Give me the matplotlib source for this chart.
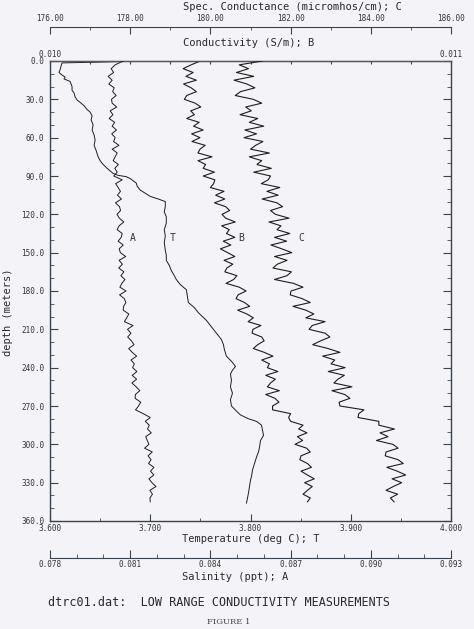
import numpy as np
import matplotlib
matplotlib.use("Agg")
import matplotlib.pyplot as plt
from matplotlib.ticker import MultipleLocator, FormatStrFormatter, FuncFormatter

# --------------------------------------------
# DATA
# --------------------------------------------
# common depth grid (m) for salinity, conductivity and spec. conductance
depth = np.arange(0, 346, 3)

# Temperature profile (deg C), own depth samples
t_depth = [0, 1.5, 4, 7, 9, 11, 12.5, 14, 16, 18,
           20, 23, 25, 28, 30.5, 33, 35, 38, 40, 43,
           46, 50, 54, 58, 62, 66, 70, 75, 78, 81,
           84, 86, 88, 89.5, 90.5, 92, 95.5, 98, 101, 104,
           106, 108, 110, 114, 118, 122, 127, 132, 137, 142,
           148, 152, 156, 160, 164, 168, 171, 175, 179, 184,
           189, 193, 197, 200, 203, 207, 210, 214, 218, 222,
           226, 231, 235, 239, 242, 245, 250, 255, 260, 265,
           270, 274, 277, 280, 282, 285, 289, 293, 297, 302,
           306, 310, 315, 320, 325, 328, 333, 338, 342, 346]
t_temp = [3.697, 3.612, 3.611, 3.610, 3.609, 3.612, 3.615, 3.614, 3.620, 3.621,
          3.622, 3.622, 3.624, 3.625, 3.627, 3.631, 3.634, 3.637, 3.640, 3.642,
          3.641, 3.643, 3.642, 3.644, 3.645, 3.644, 3.646, 3.648, 3.650, 3.653,
          3.657, 3.660, 3.663, 3.668, 3.676, 3.680, 3.686, 3.687, 3.690, 3.696,
          3.700, 3.708, 3.715, 3.715, 3.714, 3.716, 3.716, 3.714, 3.715, 3.714,
          3.715, 3.716, 3.716, 3.719, 3.721, 3.724, 3.726, 3.730, 3.736, 3.737,
          3.738, 3.744, 3.748, 3.752, 3.756, 3.760, 3.763, 3.767, 3.771, 3.773,
          3.774, 3.776, 3.781, 3.785, 3.782, 3.780, 3.781, 3.780, 3.782, 3.780,
          3.781, 3.786, 3.790, 3.798, 3.806, 3.811, 3.812, 3.813, 3.810, 3.809,
          3.808, 3.806, 3.804, 3.802, 3.801, 3.800, 3.799, 3.798, 3.797, 3.796]

# Salinity (ppt) -> A
a_sal = [0.080738, 0.080438, 0.080288, 0.080381, 0.080175, 0.080325, 0.080201, 0.080400, 0.080344, 0.080475,
         0.080299, 0.080325, 0.080494, 0.080250, 0.080355, 0.080213, 0.080419, 0.080325, 0.080486, 0.080310,
         0.080438, 0.080378, 0.080580, 0.080325, 0.080513, 0.080438, 0.080363, 0.080558, 0.080423, 0.080513,
         0.080385, 0.080700, 0.080456, 0.080550, 0.080636, 0.080524, 0.080674, 0.080449, 0.080599, 0.080640,
         0.080505, 0.080595, 0.080760, 0.080584, 0.080513, 0.080700, 0.080663, 0.080550, 0.080738, 0.080588,
         0.080633, 0.080831, 0.080584, 0.080708, 0.080573, 0.080764, 0.080651, 0.080801, 0.080689, 0.080614,
         0.080843, 0.080603, 0.080779, 0.080839, 0.080753, 0.080738, 0.080948, 0.080869, 0.080783, 0.081105,
         0.080899, 0.081030, 0.080906, 0.081045, 0.081143, 0.080944, 0.081075, 0.081240, 0.081030, 0.081154,
         0.081090, 0.081251, 0.081075, 0.081240, 0.081064, 0.081225, 0.081360, 0.081195, 0.081184, 0.081394,
         0.081311, 0.081199, 0.081488, 0.081750, 0.081563, 0.081713, 0.081649, 0.081788, 0.081581, 0.081638,
         0.081701, 0.081536, 0.081825, 0.081668, 0.081780, 0.081686, 0.081889, 0.081758, 0.081885, 0.081701,
         0.081814, 0.081964, 0.081735, 0.081833, 0.081739, 0.081750]

# Conductivity (S/m) -> B
b_cond = [0.010375, 0.010352, 0.010332, 0.010357, 0.010339, 0.010365, 0.010333, 0.010352, 0.010365, 0.010341,
          0.010335, 0.010362, 0.010376, 0.010351, 0.010360, 0.010341, 0.010372, 0.010358, 0.010382, 0.010353,
          0.010374, 0.010354, 0.010387, 0.010374, 0.010369, 0.010404, 0.010369, 0.010388, 0.010382, 0.010410,
          0.010382, 0.010411, 0.010408, 0.010400, 0.010434, 0.010413, 0.010436, 0.010410, 0.010438, 0.010448,
          0.010429, 0.010438, 0.010462, 0.010428, 0.010447, 0.010440, 0.010461, 0.010432, 0.010451, 0.010425,
          0.010443, 0.010461, 0.010434, 0.010456, 0.010441, 0.010436, 0.010466, 0.010458, 0.010439, 0.010472,
          0.010489, 0.010469, 0.010464, 0.010485, 0.010498, 0.010468, 0.010491, 0.010507, 0.010494, 0.010526,
          0.010506, 0.010504, 0.010528, 0.010534, 0.010518, 0.010507, 0.010534, 0.010556, 0.010528, 0.010547,
          0.010542, 0.010568, 0.010538, 0.010562, 0.010550, 0.010542, 0.010572, 0.010538, 0.010561, 0.010571,
          0.010555, 0.010555, 0.010600, 0.010595, 0.010600, 0.010631, 0.010620, 0.010641, 0.010617, 0.010630,
          0.010611, 0.010640, 0.010649, 0.010626, 0.010623, 0.010642, 0.010652, 0.010626, 0.010642, 0.010659,
          0.010635, 0.010654, 0.010642, 0.010631, 0.010649, 0.010642]

# Spec. conductance (micromhos/cm) -> C
c_spec = [181.30, 180.72, 180.95, 180.65, 181.08, 180.59, 180.91, 181.11, 180.75, 180.62,
          181.07, 181.28, 180.88, 181.02, 180.74, 181.18, 180.97, 181.33, 180.86, 181.15,
          180.84, 181.31, 181.13, 181.00, 181.47, 180.97, 181.28, 181.16, 181.52, 181.08,
          181.50, 181.44, 181.27, 181.73, 181.41, 181.69, 181.29, 181.66, 181.80, 181.50,
          181.62, 181.96, 181.46, 181.76, 181.66, 181.98, 181.60, 181.90, 181.51, 181.78,
          182.03, 181.60, 181.91, 181.67, 181.56, 182.02, 181.91, 181.60, 182.07, 182.31,
          182.01, 181.99, 182.29, 182.49, 182.06, 182.38, 182.58, 182.38, 182.86, 182.54,
          182.46, 182.86, 182.98, 182.75, 182.55, 182.93, 183.23, 182.80, 183.10, 183.01,
          183.36, 182.94, 183.34, 183.18, 183.08, 183.53, 183.03, 183.35, 183.48, 183.21,
          183.23, 183.83, 183.70, 183.68, 184.20, 184.20, 184.59, 184.23, 184.43, 184.14,
          184.55, 184.68, 184.38, 184.36, 184.68, 184.81, 184.40, 184.66, 184.87, 184.53,
          184.77, 184.56, 184.38, 184.67, 184.49, 184.58]

# curve tags: (temperature-axis x, depth) of the letters
tag_names = ["A", "T", "B", "C"]
tag_x = [3.683, 3.722, 3.791, 3.851]
tag_depth = 138.5

# --------------------------------------------
# FIGURE
# --------------------------------------------
plt.rcParams['font.family'] = 'DejaVu Sans Mono'
W, H = 474, 629
BG = '#f4f4f8'
INK = '#1e1e1e'
SPINE = '#3a4450'
LBL = '#333333'


def fx(x):
    return x / W


def fy(y):
    return 1 - y / H


fig = plt.figure(figsize=(W / 100, H / 100), dpi=100, facecolor=BG)
ax = fig.add_axes([fx(50), fy(521), 401 / W, 460 / H])
ax.set_facecolor(BG)
for s in ax.spines.values():
    s.set_color(SPINE)
    s.set_linewidth(1.0)

# temperature (bottom) + depth (left/right)
ax.set_xlim(3.6, 4.0)
ax.set_ylim(360, 0)
ax.xaxis.set_major_locator(MultipleLocator(0.1))
ax.xaxis.set_minor_locator(MultipleLocator(0.05))
ax.xaxis.set_major_formatter(FormatStrFormatter('%.3f'))
ax.yaxis.set_major_locator(MultipleLocator(30))
ax.yaxis.set_minor_locator(MultipleLocator(10))
ax.yaxis.set_major_formatter(FormatStrFormatter('%.1f'))
ax.tick_params(axis='both', which='both', direction='in', colors=SPINE,
               labelcolor=LBL, labelsize=5.5)
ax.tick_params(axis='x', top=False, pad=2)
ax.tick_params(axis='x', which='major', length=5)
ax.tick_params(axis='x', which='minor', length=2.2)
ax.tick_params(axis='y', which='both', left=True, right=True, pad=4)
ax.tick_params(axis='y', which='major', length=6)
ax.tick_params(axis='y', which='minor', length=3)
ax.plot(t_temp, t_depth, color=INK, lw=0.7)

# conductivity (top of box)
axb = ax.twiny()
axb.set_xlim(0.010, 0.011)
axb.xaxis.set_major_locator(MultipleLocator(0.0001))
axb.xaxis.set_major_formatter(FuncFormatter(
    lambda v, p: f'{v:.3f}' if abs(v - 0.010) < 1e-7 or abs(v - 0.011) < 1e-7 else ''))
axb.tick_params(axis='x', direction='in', length=2.5, colors=SPINE,
                labelcolor=LBL, labelsize=5.5, pad=1.5)
for k in ['left', 'right', 'bottom']:
    axb.spines[k].set_visible(False)
axb.spines['top'].set_color('#6a5058')
axb.plot(b_cond, depth, color=INK, lw=0.8)

# salinity (detached bottom axis)
axs = ax.twiny()
axs.set_xlim(0.078, 0.093)
axs.xaxis.set_ticks_position('bottom')
axs.spines['bottom'].set_position(('axes', -37 / 460))
for k in ['left', 'right', 'top']:
    axs.spines[k].set_visible(False)
axs.spines['bottom'].set_color(SPINE)
axs.xaxis.set_major_locator(MultipleLocator(0.003))
axs.xaxis.set_minor_locator(MultipleLocator(0.001))
axs.xaxis.set_major_formatter(FormatStrFormatter('%.3f'))
axs.tick_params(axis='x', which='both', direction='in', colors=SPINE,
                labelcolor=LBL, labelsize=5.5, pad=1.5)
axs.tick_params(axis='x', which='major', length=5.5)
axs.tick_params(axis='x', which='minor', length=3)
axs.plot(a_sal, depth, color=INK, lw=0.7)

# spec. conductance (detached top axis)
axc = ax.twiny()
axc.set_xlim(176, 186)
axc.spines['top'].set_position(('axes', 1 + 34 / 460))
for k in ['left', 'right', 'bottom']:
    axc.spines[k].set_visible(False)
axc.spines['top'].set_color(SPINE)
axc.xaxis.set_major_locator(MultipleLocator(2))
axc.xaxis.set_minor_locator(MultipleLocator(1))
axc.xaxis.set_major_formatter(FormatStrFormatter('%.2f'))
axc.tick_params(axis='x', which='both', direction='in', colors=SPINE,
                labelcolor=LBL, labelsize=5.5, pad=3)
axc.tick_params(axis='x', which='major', length=5)
axc.tick_params(axis='x', which='minor', length=2.2)
axc.plot(c_spec, depth, color=INK, lw=0.8)

# curve tags
for name, x in zip(tag_names, tag_x):
    ax.text(x, tag_depth, name, fontsize=7, color=LBL,
            ha='center', va='center')

# axis titles
tk = dict(fontsize=7.5, color='#2a2a2a', va='center')
fig.text(fx(183), fy(7), 'Spec. Conductance (micromhos/cm); C', ha='left', **tk)
fig.text(fx(183), fy(43), 'Conductivity (S/m); B', ha='left', **tk)
fig.text(fx(182), fy(539.5), 'Temperature (deg C); T', ha='left', **tk)
fig.text(fx(182), fy(576.5), 'Salinity (ppt); A', ha='left', **tk)
fig.text(fx(8), fy(312), 'depth (meters)', rotation=90, ha='center', **tk)
fig.text(fx(48), fy(603), 'dtrc01.dat:  LOW RANGE CONDUCTIVITY MEASUREMENTS',
         ha='left', fontsize=8.5, color='#2a2a2a', va='center')
fig.text(fx(229), fy(622), 'FIGURE 1', ha='center', va='center',
         fontsize=6, color='#444444', family='DejaVu Serif')

fig.savefig('out.png', dpi=100, facecolor=BG)
